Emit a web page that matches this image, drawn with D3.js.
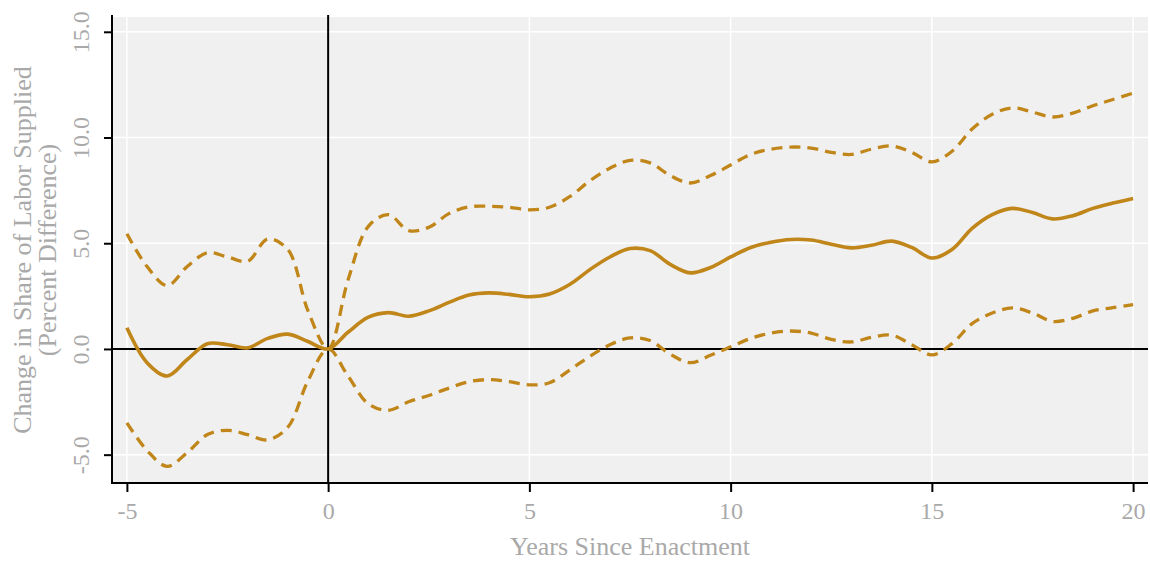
<!DOCTYPE html>
<html><head><meta charset="utf-8">
<script src="https://cdn.jsdelivr.net/npm/d3@7"></script>
<style>body{margin:0;background:#fff;} svg{display:block;}</style>
</head><body>
<svg id="c" width="1150" height="561"></svg>
<script>
const years = [-5,-4.5,-4,-3.5,-3,-2.5,-2,-1.5,-1,-0.5,0,0.5,1,1.5,2,2.5,3,3.5,4,4.5,5,5.5,6,6.5,7,7.5,8,8.5,9,9.5,10,10.5,11,11.5,12,12.5,13,13.5,14,14.5,15,15.5,16,16.5,17,17.5,18,18.5,19,19.5,20];
const estimate = [1.0,-0.65,-1.28,-0.5,0.25,0.2,0.05,0.5,0.7,0.35,0,0.8,1.5,1.72,1.55,1.8,2.2,2.55,2.65,2.58,2.47,2.6,3.05,3.75,4.35,4.75,4.65,4.0,3.6,3.85,4.35,4.8,5.05,5.18,5.15,4.95,4.78,4.9,5.1,4.8,4.3,4.7,5.7,6.35,6.65,6.45,6.15,6.3,6.65,6.9,7.12];
const upper = [5.45,3.9,3.0,3.9,4.55,4.35,4.15,5.2,4.7,1.8,0,3.3,5.8,6.35,5.6,5.75,6.4,6.72,6.75,6.7,6.58,6.7,7.2,7.95,8.55,8.92,8.8,8.2,7.85,8.2,8.7,9.2,9.45,9.55,9.5,9.3,9.2,9.45,9.6,9.3,8.85,9.35,10.4,11.1,11.4,11.2,10.97,11.15,11.5,11.8,12.1];
const lower = [-3.5,-4.8,-5.55,-4.9,-4.05,-3.85,-4.05,-4.3,-3.7,-1.5,0,-1.3,-2.6,-2.9,-2.5,-2.2,-1.85,-1.55,-1.45,-1.55,-1.7,-1.6,-1.0,-0.35,0.2,0.52,0.4,-0.25,-0.65,-0.3,0.1,0.5,0.75,0.85,0.75,0.45,0.33,0.55,0.65,0.2,-0.28,0.25,1.2,1.7,1.94,1.7,1.3,1.45,1.8,1.95,2.1];
const xTicks = [-5,0,5,10,15,20];
const yTicks = [-5,0,5,10,15];
const xTitle = "Years Since Enactment";
const yTitle = ["Change in Share of Labor Supplied","(Percent Difference)"];

const svg = d3.select("#c");
const L = 112, R = 1148, T = 17, B = 483;
const x = d3.scaleLinear().domain([-5.37, 20.37]).range([L, R]);
const y = d3.scaleLinear().domain([-6.34, 15.7]).range([B, T]);
const lineColor = "#c0861a";
const textColor = "#a9a9a9";
const font = "'Liberation Serif','Times New Roman',serif";
const hy = s => s.replace("\u2212", "-");

svg.append("rect").attr("x", L).attr("y", T).attr("width", R - L).attr("height", B - T).attr("fill", "#f0f0f0");

// gridlines
svg.append("g").selectAll("line").data(xTicks).join("line")
  .attr("x1", d => x(d)).attr("x2", d => x(d)).attr("y1", T).attr("y2", B)
  .attr("stroke", "#fff").attr("stroke-width", 1.5);
svg.append("g").selectAll("line").data(yTicks).join("line")
  .attr("x1", L).attr("x2", R).attr("y1", d => y(d)).attr("y2", d => y(d))
  .attr("stroke", "#fff").attr("stroke-width", 1.5);

// zero reference lines
svg.append("line").attr("x1", L).attr("x2", R).attr("y1", y(0)).attr("y2", y(0))
  .attr("stroke", "#000").attr("stroke-width", 2);
svg.append("line").attr("x1", x(0)).attr("x2", x(0)).attr("y1", T - 2).attr("y2", B)
  .attr("stroke", "#000").attr("stroke-width", 2);

// series
const gen = d3.line().x((d, i) => x(years[i])).y(d => y(d)).curve(d3.curveCatmullRom.alpha(0.5));
svg.append("path").attr("d", gen(upper)).attr("fill", "none").attr("stroke", lineColor)
  .attr("stroke-width", 3.3).attr("stroke-dasharray", "11,7");
svg.append("path").attr("d", gen(lower)).attr("fill", "none").attr("stroke", lineColor)
  .attr("stroke-width", 3.3).attr("stroke-dasharray", "11,7");
svg.append("path").attr("d", gen(estimate)).attr("fill", "none").attr("stroke", lineColor)
  .attr("stroke-width", 3.6);

// axes
const xAxis = svg.append("g").attr("transform", `translate(0,${B})`)
  .call(d3.axisBottom(x).tickValues(xTicks).tickSize(9).tickPadding(10).tickFormat(d => hy(d3.format("d")(d))));
xAxis.select(".domain").remove();
xAxis.append("line").attr("x1", L - 1).attr("x2", R).attr("y1", 0).attr("y2", 0).attr("stroke", "#000").attr("stroke-width", 2);
xAxis.selectAll(".tick line").attr("stroke", "#000").attr("stroke-width", 2);
xAxis.selectAll(".tick text").attr("fill", textColor).style("font-family", font).style("font-size", "24px");

const yAxis = svg.append("g").attr("transform", `translate(${L},0)`)
  .call(d3.axisLeft(y).tickValues(yTicks).tickSize(8).tickFormat(d => hy(d3.format(".1f")(d))));
yAxis.select(".domain").remove();
yAxis.append("line").attr("x1", 0).attr("x2", 0).attr("y1", T - 2).attr("y2", B + 1).attr("stroke", "#000").attr("stroke-width", 2);
yAxis.selectAll(".tick line").attr("stroke", "#000").attr("stroke-width", 2);
yAxis.selectAll(".tick text")
  .attr("fill", textColor).style("font-family", font).style("font-size", "24px")
  .attr("x", null).attr("dy", null)
  .attr("transform", "translate(-23,0) rotate(-90)")
  .attr("text-anchor", "middle").attr("dominant-baseline", "auto");

// titles
svg.append("text").attr("x", 630).attr("y", 555).attr("text-anchor", "middle")
  .attr("fill", textColor).style("font-family", font).style("font-size", "26px").text(xTitle);
const yc = 250;
svg.append("text").attr("transform", `translate(31,${yc}) rotate(-90)`).attr("text-anchor", "middle")
  .attr("fill", textColor).style("font-family", font).style("font-size", "26px").text(yTitle[0]);
svg.append("text").attr("transform", `translate(56,${yc}) rotate(-90)`).attr("text-anchor", "middle")
  .attr("fill", textColor).style("font-family", font).style("font-size", "26px").text(yTitle[1]);
</script>
</body></html>
